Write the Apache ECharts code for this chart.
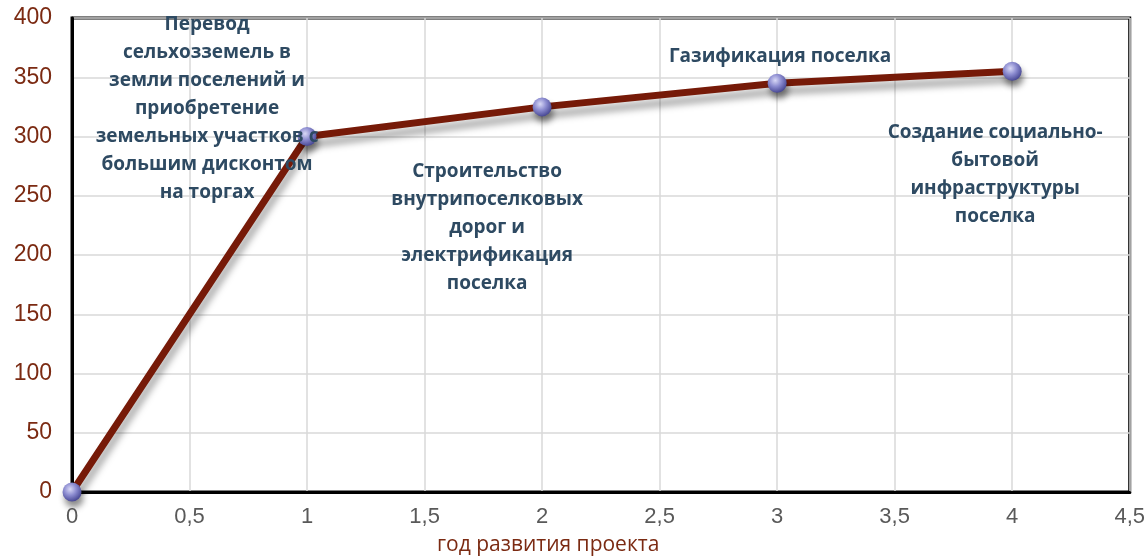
<!DOCTYPE html>
<html>
<head>
<meta charset="utf-8">
<script src="https://cdn.jsdelivr.net/npm/echarts@6/dist/echarts.min.js"></script>
<style>
  html, body { margin: 0; padding: 0; background: #fff; }
  #main { width: 1148px; height: 560px; }
</style>
</head>
<body>
<div id="main"></div>
<script>
// данные графика
var years = [0, 1, 2, 3, 4];
var values = [0, 300, 325, 345, 355];
var stageLabels = [
  "",
  "Перевод\nсельхозземель в\nземли поселений и\nприобретение\nземельных участков с\nбольшим дисконтом\nна торгах",
  "Строительство\nвнутрипоселковых\nдорог и\nэлектрификация\nпоселка",
  "Газификация поселка",
  "Создание социально-\nбытовой\nинфраструктуры\nпоселка"
];
var xTitle = "год развития проекта";

// смещения подписей относительно точек
var labelOffsets = [[0, 0], [-100, -28], [-55, 121], [3, -27], [-17, 103]];

var myChart = echarts.init(document.getElementById("main"));

var points = years.map(function (x, i) {
  return {
    value: [x, values[i]],
    label: {
      show: stageLabels[i] !== "",
      formatter: stageLabels[i],
      position: "inside",
      align: "center",
      verticalAlign: "middle",
      offset: labelOffsets[i]
    }
  };
});

var option = {
  backgroundColor: "#ffffff",
  animation: false,
  grid: {
    left: 72,
    right: 18,
    top: 18,
    bottom: 68,
    show: true,
    borderColor: "#000",
    borderWidth: 3
  },
  xAxis: {
    type: "value",
    min: 0,
    max: 4.5,
    interval: 0.5,
    axisLine: { show: true, lineStyle: { color: "#000", width: 3 } },
    axisTick: { show: false },
    splitLine: { show: true, lineStyle: { color: "#d9d9d9", width: 1.5 } },
    axisLabel: {
      color: "#595959",
      fontSize: 22,
      fontFamily: "Liberation Sans",
      margin: 14,
      formatter: function (v) {
        return String(v).replace(".", ",");
      }
    }
  },
  yAxis: {
    type: "value",
    min: 0,
    max: 400,
    interval: 50,
    axisLine: { show: true, lineStyle: { color: "#000", width: 3 } },
    axisTick: { show: false },
    splitLine: { show: true, lineStyle: { color: "#d9d9d9", width: 1.5 } },
    axisLabel: {
      color: "#7b2a12",
      fontSize: 23,
      fontFamily: "Liberation Sans",
      margin: 20
    }
  },
  graphic: [
    {
      type: "text",
      left: 437,
      top: 535,
      style: {
        text: xTitle,
        fill: "#7b2a12",
        font: "21px 'Open Sans'"
      }
    }
  ],
  series: [
    {
      type: "line",
      data: points,
      symbol: "circle",
      symbolSize: 19,
      lineStyle: {
        color: "#761a08",
        width: 7,
        shadowColor: "rgba(0,0,0,0.35)",
        shadowBlur: 7,
        shadowOffsetX: 2,
        shadowOffsetY: 8
      },
      itemStyle: {
        color: {
          type: "radial",
          x: 0.4,
          y: 0.35,
          r: 0.65,
          colorStops: [
            { offset: 0, color: "#d8d8f6" },
            { offset: 0.5, color: "#8c8cd0" },
            { offset: 1, color: "#4a4a96" }
          ]
        },
        borderWidth: 0,
        shadowColor: "rgba(0,0,0,0.45)",
        shadowBlur: 6,
        shadowOffsetX: 2,
        shadowOffsetY: 6
      },
      label: {
        color: "#2e4a62",
        fontSize: 19,
        fontWeight: "bold",
        fontFamily: "Open Sans",
        lineHeight: 28
      },
      z: 3
    }
  ]
};

window.onresize = myChart.resize;
myChart.setOption(option);
</script>
</body>
</html>
